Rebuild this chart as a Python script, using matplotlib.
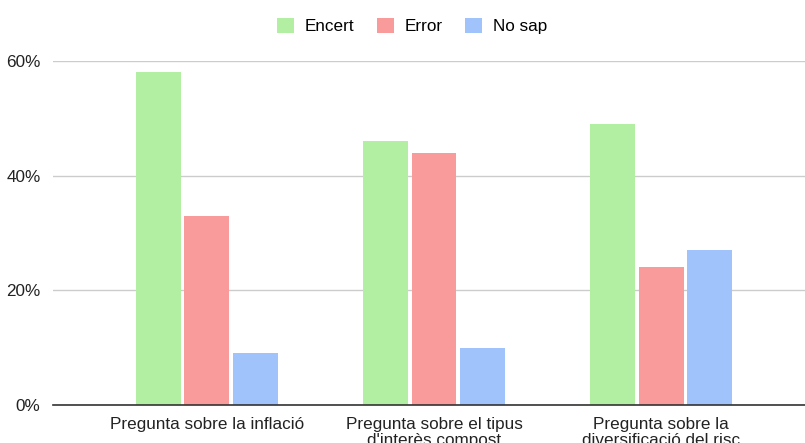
import numpy as np
import matplotlib
matplotlib.use('Agg')
import matplotlib.pyplot as plt
from matplotlib.ticker import PercentFormatter

plt.rcParams['font.family'] = ['Liberation Sans', 'DejaVu Sans']

# data (percent)
categories = ['Pregunta sobre la inflació',
              "Pregunta sobre el tipus\nd'interès compost",
              'Pregunta sobre la\ndiversificació del risc']
encert = [58, 46, 49]
error = [33, 44, 24]
no_sap = [9, 10, 27]

series = ['Encert', 'Error', 'No sap']
colors = ['#b3efa3', '#f99b9b', '#a0c3fc']

fig = plt.figure(figsize=(8.05, 4.43), dpi=100)
ax = fig.add_axes([53 / 805, 38 / 443, 752 / 805, 344 / 443])

x = np.arange(len(categories))
w = 0.198
step = 0.214
for k, (vals, name, col) in enumerate(zip([encert, error, no_sap], series, colors)):
    ax.bar(x + (k - 1) * step, vals, width=w, color=col, label=name, zorder=3)

ax.set_xlim(-0.678, 2.634)
ax.set_ylim(0, 60)
ax.set_yticks([0, 20, 40, 60])
ax.yaxis.set_major_formatter(PercentFormatter(decimals=0))
ax.grid(axis='y', color='#cccccc', linewidth=1, zorder=0)
for s in ['top', 'right', 'left']:
    ax.spines[s].set_visible(False)
ax.spines['bottom'].set_color('#333333')
ax.spines['bottom'].set_linewidth(1.2)
ax.spines['bottom'].set_zorder(4)
ax.tick_params(length=0, labelsize=12.3, colors='#222222')
ax.tick_params(axis='y', pad=9)
ax.tick_params(axis='x', pad=9)
ax.set_xticks(x)
ax.set_xticklabels(categories, linespacing=1.05)

fig.legend(loc='center', bbox_to_anchor=(412 / 805, 1 - 26 / 443), ncol=3, frameon=False,
           fontsize=12.3, handlelength=1.0, handleheight=1.0, columnspacing=1.3,
           handletextpad=0.65, borderaxespad=0, borderpad=0)

fig.savefig('out.png', dpi=100)
